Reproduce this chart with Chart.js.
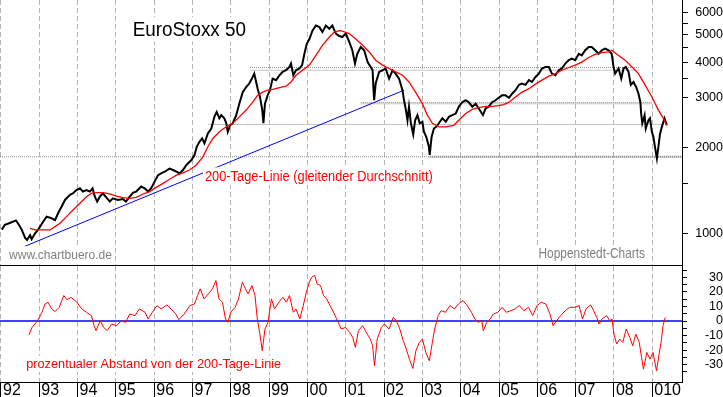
<!DOCTYPE html>
<html><head><meta charset="utf-8">
<script src="https://cdn.jsdelivr.net/npm/chart.js@4.4.1/dist/chart.umd.min.js"></script>
<style>
html,body{margin:0;padding:0;background:#fff;overflow:hidden;width:723px;height:397px}
canvas{position:absolute;left:0;display:block}
#top{top:0}#bot{top:266px}
</style></head>
<body>
<canvas id="top" width="723" height="266"></canvas>
<canvas id="bot" width="723" height="131"></canvas>
<script>
// ---------- data ----------
const yearTicks = [1992,1993,1994,1995,1996,1997,1998,1999,2000,2001,2002,2003,2004,2005,2006,2007,2008,2009];
const yearLabels = ['92','93','94','95','96','97','98','99','00','01','02','03','04','05','06','07','08','010'];
const priceTicks = [1000,1500,2000,3000,3500,4000,4500,5000,5500,6000];
const distTicks = [-35,-30,-25,-20,-15,-10,-5,0,5,10,15,20,25,30,35];

const priceYears = [1992.02,1992.10,1992.23,1992.39,1992.45,1992.54,1992.63,1992.68,1992.76,1992.80,1992.89,1992.97,
1993.10,1993.19,1993.32,1993.41,1993.49,1993.58,1993.67,1993.80,1993.88,1993.97,1994.06,1994.14,1994.23,1994.32,1994.39,
1994.45,1994.51,1994.58,1994.66,1994.77,1994.84,1994.92,1995.05,1995.18,1995.26,1995.36,1995.45,1995.53,1995.66,1995.75,
1995.84,1995.92,1996.01,1996.10,1996.18,1996.27,1996.40,1996.49,1996.58,1996.66,1996.75,1996.84,1996.97,1997.05,1997.11,
1997.18,1997.25,1997.31,1997.40,1997.49,1997.57,1997.63,1997.70,1997.75,1997.83,1997.88,1997.92,1997.98,1998.05,1998.14,
1998.22,1998.31,1998.40,1998.48,1998.55,1998.61,1998.66,1998.70,1998.76,1998.82,1998.85,1998.89,1998.96,1999.02,1999.09,
1999.18,1999.27,1999.35,1999.44,1999.53,1999.57,1999.63,1999.70,1999.79,1999.86,1999.92,1999.98,2000.05,2000.13,2000.22,
2000.31,2000.39,2000.48,2000.57,2000.65,2000.74,2000.83,2000.91,2001.00,2001.09,2001.17,2001.24,2001.30,2001.39,2001.48,
2001.57,2001.65,2001.70,2001.72,2001.74,2001.78,2001.87,2001.96,2002.04,2002.13,2002.22,2002.30,2002.39,2002.48,2002.52,
2002.57,2002.61,2002.65,2002.70,2002.76,2002.81,2002.87,2002.93,2003.00,2003.04,2003.10,2003.17,2003.19,2003.24,2003.30,
2003.36,2003.43,2003.52,2003.61,2003.69,2003.78,2003.87,2003.95,2004.04,2004.13,2004.21,2004.30,2004.39,2004.47,2004.58,
2004.65,2004.73,2004.82,2004.91,2004.99,2005.08,2005.17,2005.26,2005.34,2005.43,2005.52,2005.60,2005.69,2005.78,2005.86,
2005.95,2006.04,2006.12,2006.21,2006.30,2006.38,2006.47,2006.56,2006.64,2006.73,2006.82,2006.90,2006.99,2007.08,2007.16,
2007.25,2007.34,2007.42,2007.51,2007.60,2007.68,2007.77,2007.86,2007.94,2007.99,2008.03,2008.12,2008.19,2008.25,2008.31,
2008.38,2008.44,2008.51,2008.58,2008.64,2008.69,2008.71,2008.74,2008.80,2008.83,2008.90,2008.94,2008.99,2009.03,2009.07,
2009.12,2009.16,2009.20,2009.25,2009.32,2009.38];
const priceValues = [1030,1070,1087,1110,1080,1030,963,947,985,953,1000,1030,
1098,1144,1129,1113,1176,1240,1310,1365,1383,1420,1440,1402,1420,1402,1440,
1345,1293,1345,1383,1327,1293,1327,1310,1320,1293,1345,1390,1402,1460,1440,
1402,1440,1520,1602,1624,1647,1690,1670,1647,1624,1670,1740,1810,1886,2016,
2100,2157,2072,2245,2337,2570,2675,2540,2605,2540,2440,2277,2400,2440,2605,
2860,3140,3273,3367,3505,3650,3410,3230,3020,2715,2440,2860,3060,3190,3505,
3460,3600,3700,3750,3850,3960,3600,3750,3805,3910,4285,4640,4830,5170,5390,
5320,5110,5390,5250,5390,5050,4950,4910,5050,4720,4410,3960,4285,4530,4410,
4005,3850,3750,3270,2940,3367,3700,3750,3805,3505,3750,3650,3505,3190,2940,
2715,2500,2790,2440,2230,2500,2605,2440,2470,2277,2185,2016,1886,2185,2337,
2370,2440,2540,2470,2570,2605,2640,2790,2895,2940,2895,2790,2860,2750,2605,
2750,2790,2895,2940,3000,3060,3060,3000,3100,3190,3330,3367,3330,3460,3410,
3550,3650,3805,3850,3850,3650,3600,3750,3805,3960,4070,4125,4070,4285,4230,
4410,4530,4530,4410,4285,4410,4470,4410,4285,3850,3650,3805,3505,3805,3850,
3700,3330,3410,3273,3100,2895,2640,2440,2605,2337,2500,2540,2277,2185,2016,
1835,2016,2230,2370,2540,2400];

const maYears = [1992.76,1992.89,1993.10,1993.28,1993.41,1993.54,1993.71,1993.88,1994.06,1994.23,1994.36,1994.49,1994.66,
1994.84,1995.01,1995.18,1995.36,1995.53,1995.71,1995.88,1996.05,1996.23,1996.40,1996.58,1996.75,1996.92,1997.10,1997.27,
1997.40,1997.53,1997.70,1997.88,1998.05,1998.22,1998.40,1998.57,1998.70,1998.83,1998.96,1999.09,1999.27,1999.44,1999.57,
1999.70,1999.87,2000.05,2000.22,2000.39,2000.57,2000.70,2000.83,2000.91,2001.09,2001.26,2001.44,2001.61,2001.78,2001.96,
2002.13,2002.30,2002.48,2002.65,2002.82,2003.00,2003.13,2003.26,2003.43,2003.61,2003.82,2003.95,2004.13,2004.30,2004.47,
2004.65,2004.82,2004.99,2005.12,2005.26,2005.43,2005.60,2005.78,2005.95,2006.12,2006.30,2006.47,2006.64,2006.82,2006.99,
2007.16,2007.34,2007.51,2007.68,2007.86,2007.94,2008.12,2008.29,2008.47,2008.64,2008.81,2008.99,2009.16,2009.29,2009.38];
const maValues = [1041,1027,1027,1027,1055,1084,1144,1208,1275,1345,1383,1390,1390,
1375,1352,1334,1327,1338,1375,1402,1451,1499,1550,1602,1632,1670,1740,1859,
2016,2157,2277,2370,2440,2570,2715,2895,3060,3140,3190,3210,3260,3295,3410,
3600,3750,3910,4230,4590,4910,5110,5170,5150,5050,4830,4590,4350,4070,3910,
3805,3700,3600,3410,3140,2860,2605,2440,2370,2370,2400,2500,2640,2730,2770,
2800,2800,2815,2840,2895,3020,3140,3230,3350,3460,3575,3650,3750,3835,3910,
4005,4160,4265,4330,4350,4410,4230,4070,3850,3650,3330,3020,2715,2540,2400];

const distYears = [1992.73,1992.81,1992.92,1993.00,1993.07,1993.15,1993.23,1993.32,1993.41,1993.52,1993.64,1993.72,1993.83,
1993.98,1994.11,1994.23,1994.36,1994.43,1994.48,1994.59,1994.68,1994.77,1994.89,1995.02,1995.14,1995.25,1995.36,1995.50,
1995.61,1995.76,1995.84,1995.95,1996.07,1996.18,1996.33,1996.44,1996.56,1996.64,1996.78,1996.93,1997.05,1997.13,1997.20,
1997.30,1997.41,1997.52,1997.61,1997.69,1997.78,1997.86,1997.92,1998.00,1998.11,1998.20,1998.30,1998.38,1998.45,1998.55,
1998.63,1998.69,1998.75,1998.82,1998.89,1998.97,1999.06,1999.14,1999.25,1999.36,1999.45,1999.53,1999.63,1999.70,1999.80,
1999.89,1999.97,2000.05,2000.11,2000.19,2000.25,2000.34,2000.42,2000.50,2000.59,2000.68,2000.80,2000.88,2000.99,2001.10,
2001.18,2001.25,2001.33,2001.44,2001.56,2001.64,2001.70,2001.75,2001.82,2001.93,2002.01,2002.13,2002.24,2002.32,2002.41,
2002.50,2002.58,2002.66,2002.75,2002.83,2002.92,2003.00,2003.09,2003.18,2003.26,2003.32,2003.41,2003.49,2003.60,2003.72,
2003.83,2003.94,2004.06,2004.17,2004.28,2004.37,2004.45,2004.55,2004.59,2004.68,2004.77,2004.85,2004.97,2005.08,2005.19,
2005.31,2005.42,2005.53,2005.65,2005.77,2005.88,2005.99,2006.10,2006.22,2006.33,2006.41,2006.50,2006.61,2006.73,2006.84,
2006.98,2007.09,2007.18,2007.27,2007.39,2007.47,2007.55,2007.61,2007.69,2007.81,2007.89,2007.95,2008.00,2008.07,2008.15,
2008.23,2008.32,2008.41,2008.49,2008.57,2008.66,2008.72,2008.77,2008.86,2008.94,2009.02,2009.11,2009.17,2009.23,2009.28,
2009.34,2009.40];
const distValues = [-9.6,-4.4,-0.9,2.5,6.0,11.7,12.9,8.3,6.5,9.4,17.5,14.7,16.3,
12.9,8.3,6.0,3.7,-3.2,-6.6,0.2,-4.4,-6.6,-2.1,-3.2,0.2,-0.9,4.8,3.7,
8.3,6.0,1.4,6.0,10.6,8.3,11.1,8.3,4.8,0.9,4.8,10.6,11.7,17.5,22.1,
15.2,18.6,22.1,27.8,15.2,12.9,1.4,-0.9,6.0,9.4,15.2,26.7,22.1,18.6,24.4,
17.5,1.4,-7.8,-20.4,-5.5,-0.9,15.2,8.3,12.9,16.3,12.9,17.5,6.0,8.3,1.4,
10.6,19.8,26.7,30.1,31.3,25.5,24.4,17.5,15.2,10.6,6.0,-0.9,-5.5,-4.4,-7.8,
-11.2,-18.1,-6.6,-3.2,-9.0,-12.4,-17.0,-30.8,-12.4,-4.4,-2.1,-5.5,2.5,0.2,-5.5,
-13.5,-19.3,-26.2,-32.6,-20.4,-14.7,-12.4,-21.6,-27.3,-14.7,-5.5,3.7,7.1,6.0,10.6,
8.3,11.7,14.0,10.6,6.0,1.4,-0.9,0.2,-6.6,-0.9,1.4,4.8,6.0,9.4,6.0,
7.1,8.3,10.6,7.1,9.4,3.7,10.6,12.9,11.7,4.8,-3.2,0.2,3.7,7.1,9.4,
9.4,10.6,1.4,8.3,11.1,7.1,2.5,-2.1,1.4,3.7,0.2,1.4,-9.0,-15.8,-12.4,
-14.7,-5.5,-11.2,-17.0,-9.0,-14.7,-25.0,-33.1,-21.6,-26.2,-21.6,-34.2,-23.9,-14.7,
-3.2,2.5];

const trendYears = [1992.60, 2002.52];
const trendValues = [897, 3190];

const levelValues = [3835, 3752, 2888, 2857, 2416, 1859, 1859];
const levelStarts = [1998.50, 1998.50, 2001.39, 2001.39, 1997.40, 1991.974, 2003.19];
const levelEnds   = [2008.67, 2008.67, 2008.99, 2008.99, 2009.29, 2009.776, 2009.776];

const zeroYears = [1991.974, 2009.776];
const zeroValues = [0, 0];

// ---------- styles ----------
const levelStyles = [
  {color:'#8c8c8c', width:1, dash:[1,1]},
  {color:'#c4c4c4', width:1, dash:[]},
  {color:'#8c8c8c', width:1, dash:[1,1]},
  {color:'#c4c4c4', width:1, dash:[]},
  {color:'#c4c4c4', width:1, dash:[]},
  {color:'#8c8c8c', width:1, dash:[1,1]},
  {color:'#7c7c7c', width:2, dash:[1,1]}
];
const X_MIN = 1991.974, X_MAX = 2009.776;
const FONT = "'Liberation Sans', Arial, sans-serif";
const NARROW = "'Liberation Sans Narrow', 'Arial Narrow', 'Liberation Sans', Arial, sans-serif";
Chart.defaults.font.family = FONT;
Chart.defaults.color = '#000';

function pts(xs, ys) { return xs.map((x, i) => ({x: x, y: ys[i]})); }
const fitH = h => s => { s.height = h; s.paddingLeft = 0; s.paddingRight = 0; };
const fitW = w => s => { s.width = w; s.paddingTop = 0; s.paddingBottom = 0; };

function fitText(ctx, text, x, base, size, width, color, bg) {
  ctx.save();
  ctx.font = size + 'px ' + FONT;
  const w = ctx.measureText(text).width;
  if (bg) {
    ctx.fillStyle = '#fff';
    ctx.fillRect(x - 2, base - size * 0.95, width + 4, size * 1.25);
  }
  ctx.translate(x, base);
  ctx.scale(width / w, 1);
  ctx.fillStyle = color;
  ctx.textBaseline = 'alphabetic';
  ctx.fillText(text, 0, 0);
  ctx.restore();
}

const upperText = {
  id: 'upperText',
  afterDraw(chart) {
    const c = chart.ctx;
    fitText(c, 'EuroStoxx 50', 132.7, 35.7, 19.5, 113.3, '#000', true);
    fitText(c, '200-Tage-Linie (gleitender Durchschnitt)', 205, 180.7, 14, 227.7, '#ff0000', true);
    fitText(c, 'www.chartbuero.de', 9, 258.5, 13, 103, '#808080', true);
    fitText(c, 'Hoppenstedt-Charts', 538.5, 258.3, 14, 106.5, '#808080', true);
  }
};
const lowerText = {
  id: 'lowerText',
  afterDraw(chart) {
    fitText(chart.ctx, 'prozentualer Abstand von der 200-Tage-Linie', 26.2, 102, 13, 255, '#ff0000', true);
  }
};

const baseOpts = {
  responsive: false, animation: false, devicePixelRatio: 1,
  layout: {padding: 0},
  elements: {point: {radius: 0, hoverRadius: 0}, line: {tension: 0, fill: false}},
  plugins: {legend: {display: false}, tooltip: {enabled: false}, title: {display: false}},
  events: []
};

const levelSets = levelValues.map((v, i) => ({
  data: pts([levelStarts[i], levelEnds[i]], [v, v]),
  borderColor: levelStyles[i].color, borderWidth: levelStyles[i].width, borderDash: levelStyles[i].dash
}));

new Chart(document.getElementById('top'), {
  type: 'line',
  data: {datasets: [
    {data: pts(maYears, maValues), borderColor: '#ff0000', borderWidth: 1.3},
    {data: pts(priceYears, priceValues), borderColor: '#000000', borderWidth: 2},
    {data: pts(trendYears, trendValues), borderColor: '#0000ff', borderWidth: 1},
    ...levelSets
  ]},
  options: Object.assign({}, baseOpts, {
    scales: {
      x: {
        type: 'linear', min: X_MIN, max: X_MAX,
        afterBuildTicks: s => { s.ticks = yearTicks.map(v => ({value: v})); },
        ticks: {display: false},
        grid: {color: '#b4b4b4', drawTicks: false, lineWidth: 1},
        border: {display: true, color: '#000', width: 1, dash: [5, 3]},
        afterFit: fitH(1)
      },
      y: {
        type: 'logarithmic', position: 'right', min: 773, max: 6629,
        afterBuildTicks: s => { s.ticks = priceTicks.map(v => ({value: v})); },
        ticks: {
          callback: v => (v % 1000 === 0 ? String(v) : ''),
          crossAlign: 'far', padding: 4, color: '#000', font: {size: 12.5},
          autoSkip: false
        },
        grid: {drawOnChartArea: false, tickLength: 6, color: '#000'},
        border: {color: '#000', width: 1},
        afterFit: fitW(41)
      }
    }
  }),
  plugins: [upperText]
});

new Chart(document.getElementById('bot'), {
  type: 'line',
  data: {datasets: [
    {data: pts(distYears, distValues), borderColor: '#ff0000', borderWidth: 1},
    {data: pts(zeroYears, zeroValues), borderColor: '#0000ff', borderWidth: 1.5}
  ]},
  options: Object.assign({}, baseOpts, {
    scales: {
      x: {
        type: 'linear', min: X_MIN, max: X_MAX,
        afterBuildTicks: s => { s.ticks = yearTicks.map(v => ({value: v})); },
        ticks: {
          callback: (v, i) => yearLabels[i],
          align: 'start', labelOffset: 2, padding: -16, maxRotation: 0, minRotation: 0,
          autoSkip: false, color: '#000', font: {family: NARROW, size: 16}
        },
        grid: {color: '#b4b4b4', tickLength: 15, tickColor: '#000', tickBorderDash: [], lineWidth: 1},
        border: {display: true, color: '#000', width: 1, dash: [5, 3]},
        afterFit: fitH(15)
      },
      y: {
        type: 'linear', position: 'right', min: -41.9, max: 37.8,
        afterBuildTicks: s => { s.ticks = distTicks.map(v => ({value: v})); },
        ticks: {
          callback: v => (v % 10 === 0 ? String(v) : ''),
          crossAlign: 'far', padding: 14, color: '#000', font: {size: 12.5},
          autoSkip: false
        },
        grid: {drawOnChartArea: false, tickLength: 5, color: '#000'},
        border: {color: '#000', width: 1},
        afterFit: fitW(41)
      }
    }
  }),
  plugins: [lowerText]
});
</script>
</body></html>
